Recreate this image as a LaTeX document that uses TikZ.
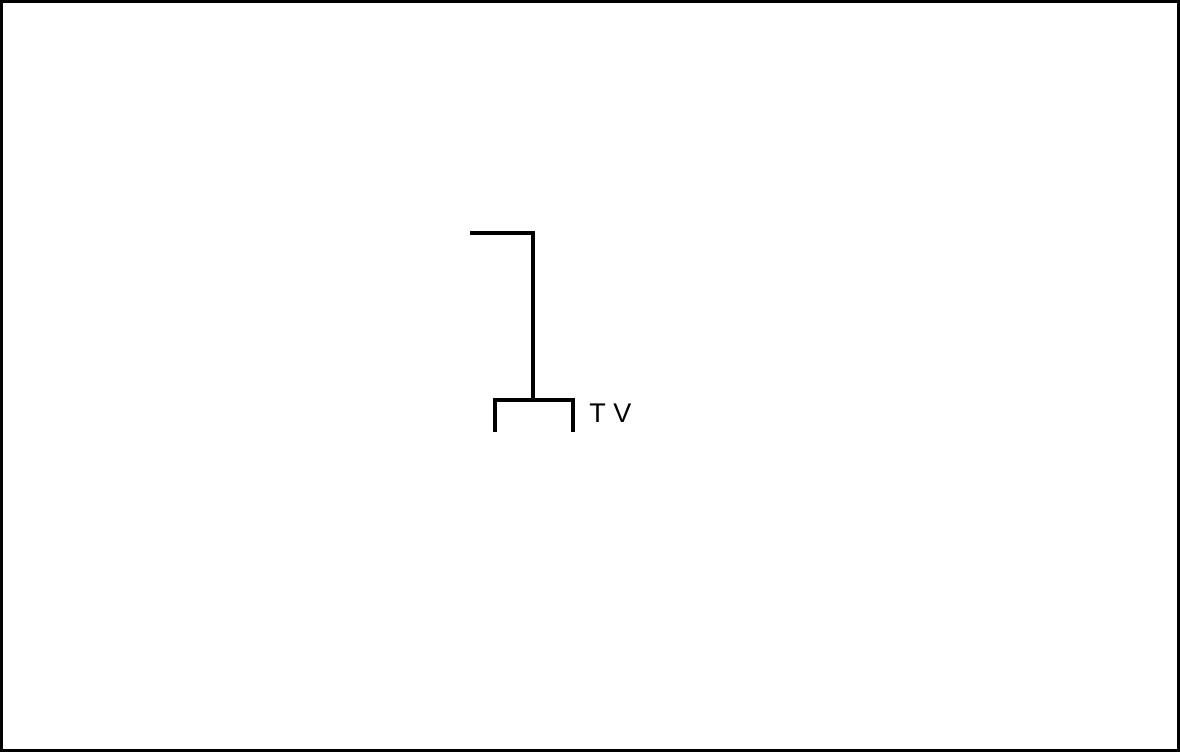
\documentclass[tikz,border=0pt]{standalone}
\usepackage{fontspec}
\setmainfont{Liberation Sans}
\usetikzlibrary{positioning}

\begin{document}
\begin{tikzpicture}[x=0.75pt,y=-0.75pt,
  wall/.style={line width=3pt,black},
  frame/.style={line width=2.25pt,black},
  label/.style={font=\fontsize{20.25}{24}\selectfont,inner sep=0pt,anchor=base west}]
\useasboundingbox (0,0) rectangle (1180,752);
% outer frame
\draw[frame] (1.5,1.5) rectangle (1178.5,750.5);
% wall with stand
\coordinate (wallTop) at (470,233);
\coordinate (wallCorner) at (533,233);
\coordinate (standTop) at (533,400);
\draw[wall] (wallTop) -- (wallCorner) -- (standTop);
% tv stand
\draw[wall] (495,432) -- (495,400) -- (573,400) -- (573,432);
\node[label] (tv) at (589,422) {T V};
\end{tikzpicture}
\end{document}
